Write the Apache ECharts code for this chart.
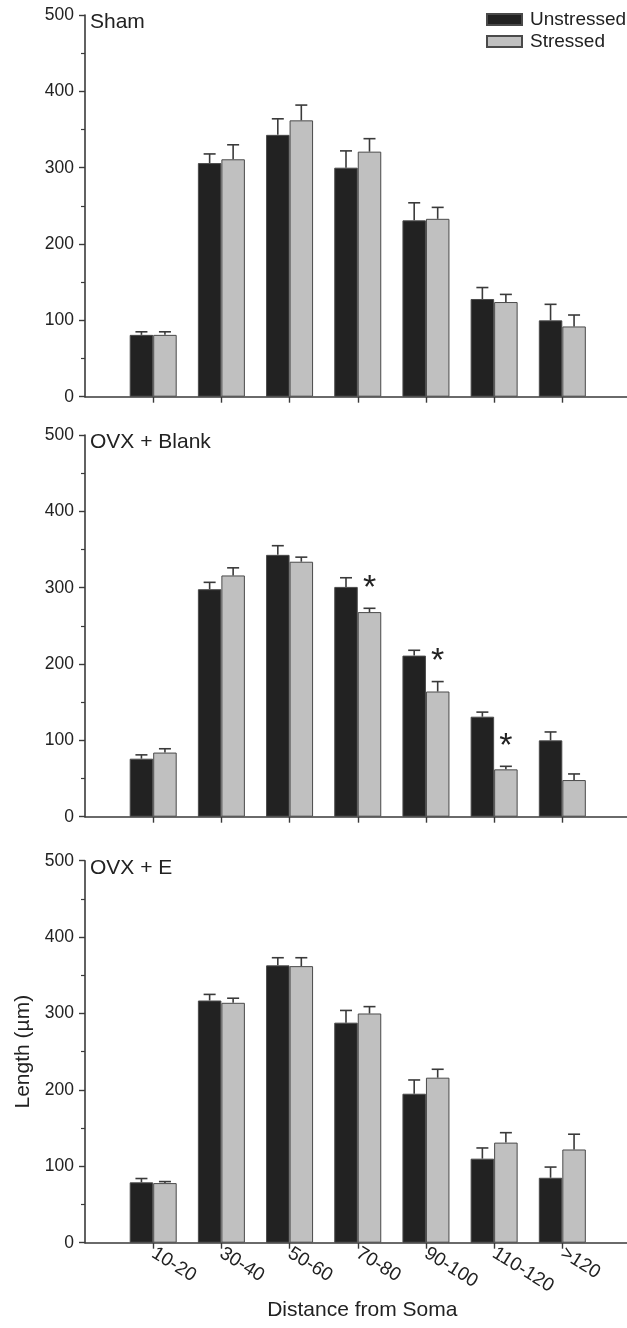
<!DOCTYPE html>
<html>
<head>
<meta charset="utf-8">
<title>Dendritic length by distance from soma</title>
<script src="https://cdn.jsdelivr.net/npm/echarts@6/dist/echarts.min.js"></script>
<style>
  html, body { margin: 0; padding: 0; background: #fff; }
  #chart { width: 627px; height: 1328px; }
</style>
</head>
<body>
<div id="chart"></div>
<script>
// distance bins (µm from soma); blank slots pad the axis at both ends
const distances = ['10-20', '30-40', '50-60', '70-80', '90-100', '110-120', '>120']
const panelNames = ['Sham', 'OVX + Blank', 'OVX + E']
const seriesNames = ['Unstressed', 'Stressed']
const yMax = 500
const yStep = 100

// Sham
const shamUnstressed = [81, 306, 343, 300, 231, 128, 100]
const shamUnstressedErr = [4, 12, 21, 22, 23, 15, 21]
const shamStressed = [81, 311, 362, 321, 233, 124, 92]
const shamStressedErr = [4, 19, 20, 17, 15, 10, 15]

// OVX + Blank
const blankUnstressed = [76, 298, 343, 301, 211, 131, 100]
const blankUnstressedErr = [5, 9, 12, 12, 7, 6, 11]
const blankStressed = [84, 316, 334, 268, 164, 62, 48]
const blankStressedErr = [5, 10, 6, 5, 13, 4, 8]
const blankSignificant = [0, 0, 0, 1, 1, 1, 0]

// OVX + E
const estUnstressed = [79, 317, 363, 288, 195, 110, 85]
const estUnstressedErr = [5, 8, 10, 16, 18, 14, 14]
const estStressed = [78, 314, 362, 300, 216, 131, 122]
const estStressedErr = [2, 6, 11, 9, 11, 13, 20]

const noSig = [0, 0, 0, 0, 0, 0, 0]

const panels = [
  { name: panelNames[0], un: shamUnstressed, unErr: shamUnstressedErr, st: shamStressed, stErr: shamStressedErr, sig: noSig },
  { name: panelNames[1], un: blankUnstressed, unErr: blankUnstressedErr, st: blankStressed, stErr: blankStressedErr, sig: blankSignificant },
  { name: panelNames[2], un: estUnstressed, unErr: estUnstressedErr, st: estStressed, stErr: estStressedErr, sig: noSig }
]

const font = "'Liberation Sans', Arial, Helvetica, sans-serif"
const textColor = '#222'
const lineColor = '#3a3a3a'
const colorDark = '#222222'
const colorLight = '#c0c0c0'
const barBorder = '#4a4a4a'
const barW = 23.5

const gridTops = [15, 435, 860.7]
const gridHeights = [381.7, 381.7, 382]
const axisCats = [''].concat(distances, [' '])

const chart = echarts.init(document.getElementById('chart'), null, { renderer: 'canvas' })

function errorSeries(idx, means, errs, side, sig) {
  return {
    type: 'custom',
    xAxisIndex: idx,
    yAxisIndex: idx,
    silent: true,
    z: 5,
    data: means.map((m, i) => [i + 1, m, errs[i], sig ? sig[i] : 0]),
    renderItem(params, api) {
      const x = api.value(0)
      const m = api.value(1)
      const e = api.value(2)
      const base = api.coord([x, m])
      const top = api.coord([x, m + e])
      const cx = base[0] + side * barW / 2
      const style = { stroke: lineColor, lineWidth: 1.6 }
      const children = [
        { type: 'line', shape: { x1: cx, y1: base[1], x2: cx, y2: top[1] }, style },
        { type: 'line', shape: { x1: cx - 6, y1: top[1], x2: cx + 6, y2: top[1] }, style }
      ]
      if (api.value(3)) {
        children.push({
          type: 'text',
          style: {
            text: '*', x: cx, y: top[1] - 20,
            align: 'center', verticalAlign: 'middle',
            font: '34px ' + font, fill: textColor
          }
        })
      }
      return { type: 'group', children }
    }
  }
}

const grids = []
const xAxes = []
const yAxes = []
const titles = []
const series = []

panels.forEach((p, idx) => {
  const last = idx === panels.length - 1
  grids.push({
    left: 85, top: gridTops[idx], width: 545.5, height: gridHeights[idx],
    containLabel: false, outerBoundsMode: 'none'
  })
  xAxes.push({
    type: 'category',
    gridIndex: idx,
    data: axisCats,
    boundaryGap: false,
    axisLine: { lineStyle: { color: lineColor, width: 1.6 } },
    axisTick: {
      show: true, inside: false, length: 6,
      interval: (i) => i >= 1 && i <= distances.length,
      lineStyle: { color: lineColor, width: 1.4 }
    },
    axisLabel: {
      show: last, interval: 0, rotate: -32, margin: 9,
      fontSize: 19, fontFamily: font, color: textColor
    },
    splitLine: { show: false },
    name: last ? 'Distance from Soma' : '',
    nameLocation: 'middle',
    nameGap: 57,
    nameMoveOverlap: false,
    nameTextStyle: { fontSize: 21, fontFamily: font, color: textColor, padding: [0, 0, 0, 9] }
  })
  yAxes.push({
    type: 'value',
    gridIndex: idx,
    min: 0, max: yMax, interval: yStep,
    axisLine: { show: true, lineStyle: { color: lineColor, width: 1.6 } },
    axisTick: { show: true, inside: false, length: 6, lineStyle: { color: lineColor, width: 1.4 } },
    minorTick: { show: true, splitNumber: 2, length: 4, lineStyle: { color: lineColor, width: 1.2 } },
    splitLine: { show: false },
    axisLabel: { margin: 11, fontSize: 17.5, fontFamily: font, color: textColor },
    name: last ? 'Length (\u00b5m)' : '',
    nameLocation: 'middle',
    nameGap: 51,
    nameRotate: 90,
    nameMoveOverlap: false,
    nameTextStyle: { fontSize: 21, fontFamily: font, color: textColor }
  })
  titles.push({
    text: p.name, left: 90, top: gridTops[idx] - 3, padding: 0,
    textStyle: { fontSize: 21, fontWeight: 'normal', fontFamily: font, color: textColor }
  })
  series.push({
    name: seriesNames[0], type: 'bar', xAxisIndex: idx, yAxisIndex: idx,
    barWidth: barW, barGap: '0%',
    itemStyle: { color: colorDark, borderColor: barBorder, borderWidth: 1 },
    data: p.un.map((v, i) => [i + 1, v])
  })
  series.push({
    name: seriesNames[1], type: 'bar', xAxisIndex: idx, yAxisIndex: idx,
    barWidth: barW, barGap: '0%',
    itemStyle: { color: colorLight, borderColor: barBorder, borderWidth: 1 },
    data: p.st.map((v, i) => [i + 1, v])
  })
  series.push(errorSeries(idx, p.un, p.unErr, -1, null))
  series.push(errorSeries(idx, p.st, p.stErr, 1, p.sig))
})

const option = {
  backgroundColor: '#fff',
  animation: false,
  title: titles,
  legend: {
    data: seriesNames,
    orient: 'vertical',
    left: 486, top: 10, padding: 0,
    itemWidth: 35, itemHeight: 11, itemGap: 3,
    icon: 'rect',
    textStyle: { fontSize: 19, fontFamily: font, color: textColor, padding: [0, 0, 0, 3] }
  },
  grid: grids,
  xAxis: xAxes,
  yAxis: yAxes,
  series: series
}

chart.setOption(option)
</script>
</body>
</html>
